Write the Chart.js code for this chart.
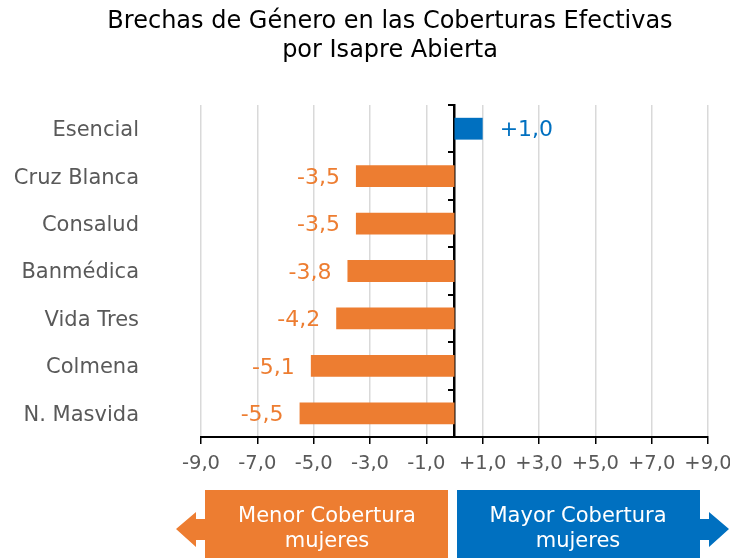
<!DOCTYPE html>
<html>
<head>
<meta charset="utf-8">
<script src="https://cdn.jsdelivr.net/npm/chart.js@4/dist/chart.umd.min.js"></script>
<style>
  html, body { margin: 0; padding: 0; background: #fff; }
  #wrap { width: 730px; height: 558px; position: relative; }
</style>
</head>
<body>
<div id="wrap"><canvas id="chart" width="730" height="558"></canvas></div>
<script>
const isapres = ['Esencial', 'Cruz Blanca', 'Consalud', 'Banmédica', 'Vida Tres', 'Colmena', 'N. Masvida'];
const brechas = [1.0, -3.5, -3.5, -3.8, -4.2, -5.1, -5.5];
const titleLines = ['Brechas de Género en las Coberturas Efectivas', 'por Isapre Abierta'];
const arrowLabels = [['Menor Cobertura', 'mujeres'], ['Mayor Cobertura', 'mujeres']];

const ORANGE = '#ED7D31';
const BLUE = '#0070C0';
const FONT = '"DejaVu Sans", Verdana, sans-serif';

const fmt = v => (v > 0 ? '+' : '') + v.toFixed(1).replace('.', ',');

// title, value labels and the two arrows under the axis
const extras = {
    id: 'extras',
    afterDraw(chart) {
        const ctx = chart.ctx;
        ctx.save();

        ctx.fillStyle = '#000';
        ctx.font = '24px ' + FONT;
        ctx.textAlign = 'center';
        ctx.textBaseline = 'middle';
        ctx.fillText(titleLines[0], 390, 22);
        ctx.fillText(titleLines[1], 390, 51);

        const meta = chart.getDatasetMeta(0);
        ctx.font = '22px ' + FONT;
        meta.data.forEach((bar, i) => {
            const v = brechas[i];
            ctx.fillStyle = v > 0 ? BLUE : ORANGE;
            ctx.textAlign = v > 0 ? 'left' : 'right';
            ctx.fillText(fmt(v), bar.x + (v > 0 ? 17 : -16), bar.y + 2);
        });

        // left arrow
        ctx.fillStyle = ORANGE;
        ctx.beginPath();
        ctx.moveTo(205, 490); ctx.lineTo(448, 490); ctx.lineTo(448, 558); ctx.lineTo(205, 558);
        ctx.lineTo(205, 540); ctx.lineTo(196, 540); ctx.lineTo(196, 547); ctx.lineTo(176, 529);
        ctx.lineTo(196, 512); ctx.lineTo(196, 519); ctx.lineTo(205, 519);
        ctx.closePath(); ctx.fill();

        // right arrow
        ctx.fillStyle = BLUE;
        ctx.beginPath();
        ctx.moveTo(457, 490); ctx.lineTo(700, 490); ctx.lineTo(700, 519); ctx.lineTo(709, 519);
        ctx.lineTo(709, 512); ctx.lineTo(729, 529); ctx.lineTo(709, 547); ctx.lineTo(709, 540);
        ctx.lineTo(700, 540); ctx.lineTo(700, 558); ctx.lineTo(457, 558);
        ctx.closePath(); ctx.fill();

        ctx.fillStyle = '#fff';
        ctx.font = '21px ' + FONT;
        ctx.textAlign = 'center';
        ctx.fillText(arrowLabels[0][0], 327, 517);
        ctx.fillText(arrowLabels[0][1], 327, 542);
        ctx.fillText(arrowLabels[1][0], 578, 517);
        ctx.fillText(arrowLabels[1][1], 578, 542);

        ctx.restore();
    }
};

new Chart(document.getElementById('chart'), {
    type: 'bar',
    data: {
        labels: isapres,
        datasets: [{
            data: brechas,
            backgroundColor: brechas.map(v => v > 0 ? BLUE : ORANGE),
            categoryPercentage: 1,
            barPercentage: 0.46
        }]
    },
    options: {
        indexAxis: 'y',
        responsive: false,
        animation: false,
        layout: { padding: { top: 105, right: 22, bottom: 0, left: 0 } },
        plugins: {
            legend: { display: false },
            tooltip: { enabled: false },
            title: { display: false }
        },
        scales: {
            x: {
                min: -9,
                max: 9,
                ticks: {
                    stepSize: 2,
                    color: '#595959',
                    font: { family: FONT, size: 19.5 },
                    padding: 8,
                    callback: v => fmt(v)
                },
                grid: { color: '#d9d9d9', lineWidth: 1.5, tickColor: '#000', tickLength: 7 },
                border: { color: '#000', width: 2 },
                afterFit: s => { s.height = 121; s.paddingLeft = 0; s.paddingRight = 0; }
            },
            y: {
                ticks: { color: '#595959', font: { family: FONT, size: 21 }, padding: 62, labelOffset: 2 },
                grid: { display: false, drawTicks: false },
                border: { display: false },
                afterFit: s => { s.width = 201; }
            },
            zero: {
                type: 'category',
                axis: 'y',
                position: { x: 0 },
                offset: true,
                ticks: { display: false },
                grid: { offset: true, drawOnChartArea: false, color: '#000', lineWidth: 2, tickLength: 5 },
                border: { color: '#000', width: 2.5 }
            }
        }
    },
    plugins: [extras]
});
</script>
</body>
</html>
